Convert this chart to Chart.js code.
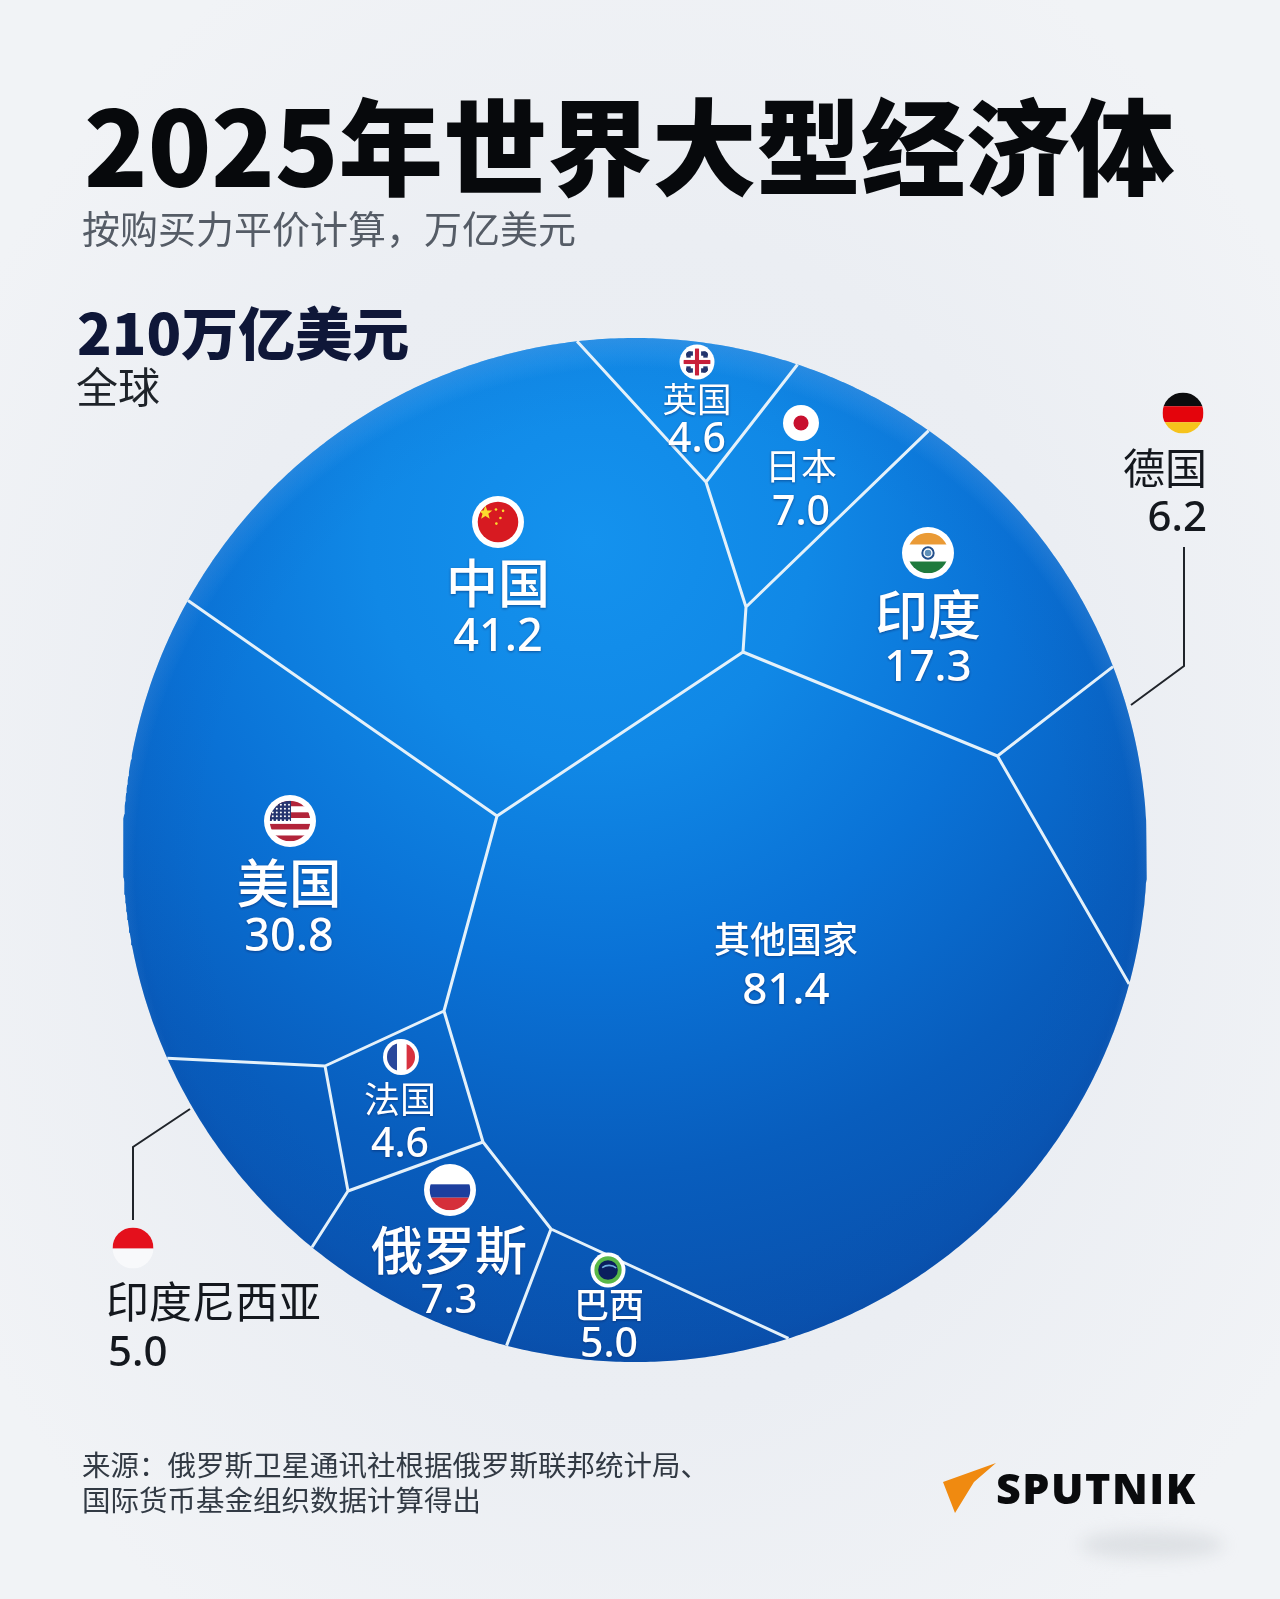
<!DOCTYPE html>
<html lang="zh">
<head>
<meta charset="utf-8">
<title>2025年世界大型经济体</title>
<script src="https://cdn.jsdelivr.net/npm/chart.js@4/dist/chart.umd.min.js"></script>
<style>
html,body{margin:0;padding:0;width:1280px;height:1599px;overflow:hidden;background:radial-gradient(ellipse 780px 980px at 640px 820px,#e8ecf1 0%,#ebeef3 60%,#f1f3f6 100%)}
canvas{display:block}
</style>
</head>
<body>
<canvas id="c" width="1280" height="1599"></canvas>
<script>
// ---------- data ----------
const categories = ['其他国家','中国','美国','印度','俄罗斯','日本','德国','印度尼西亚','巴西','英国','法国'];
const values = [81.4,41.2,30.8,17.3,7.3,7.0,6.2,5.0,5.0,4.6,4.6];
const titleText = '2025年世界大型经济体';
const subtitleText = '按购买力平价计算，万亿美元';
const totalText = '210万亿美元';
const totalSub = '全球';
const sourceLines = ['来源：俄罗斯卫星通讯社根据俄罗斯联邦统计局、','国际货币基金组织数据计算得出'];

// cell outlines, in the units of the x/y scales
const cellOther = [[743,652],[997.5,756],[1129,984],[788,1337],[551,1229],[483,1142],[444,1011],[497,816]];
const cellChina = [[189,601],[577,341],[706,482],[746,607],[743,652],[497,816]];
const cellUS = [[189,601],[497,816],[444,1011],[325,1066],[168,1058]];
const cellIndia = [[929,430],[1112,667],[997.5,756],[743,652],[746,607]];
const cellRussia = [[348,1191],[483,1142],[551,1229],[507,1344],[313,1246]];
const cellJapan = [[798,363],[929,430],[746,607],[706,482]];
const cellGermany = [[1112,667],[1129,984],[997.5,756]];
const cellIndonesia = [[168,1058],[325,1066],[348,1191],[313,1246]];
const cellBrazil = [[551,1229],[788,1337],[507,1344]];
const cellUK = [[577,341],[798,363],[706,482]];
const cellFrance = [[444,1011],[483,1142],[348,1191],[325,1066]];
const cells = [cellOther,cellChina,cellUS,cellIndia,cellRussia,cellJapan,cellGermany,cellIndonesia,cellBrazil,cellUK,cellFrance];
const sphere = {x:635,y:850,r:512};
const leaderGermany = [[1184,547],[1184,666],[1131,705]];
const leaderIndonesia = [[133,1220],[133,1147],[190,1109]];

// ---------- layout (styles/positions kept apart from the data) ----------
const W=1280,H=1599;
const CJK='"Noto Sans CJK SC"';
const labelLayout = {
 '其他国家':{x:786,ny:939,ns:36,vy:991,vs:44,c:'#fff',w:500},
 '中国':{x:498,ny:583,ns:52,vy:638,vs:45,c:'#fff',w:500,flag:[498,522,26,'cn']},
 '美国':{x:289,ny:883,ns:52.5,vy:938,vs:45,c:'#fff',w:500,flag:[290,821,26,'us']},
 '印度':{x:928,ny:615,ns:53,vy:668,vs:44,c:'#fff',w:500,flag:[928,553,26,'in']},
 '俄罗斯':{x:449,ny:1250,ns:52,vy:1302,vs:40,c:'#fff',w:500,flag:[450,1190,26,'ru']},
 '日本':{x:801,ny:466,ns:36,vy:513,vs:41,c:'#fff',w:400,flag:[801,423,18,'jp']},
 '德国':{x:1207,ny:468,ns:42,vy:519,vs:42,c:'#14181e',w:400,align:'right',flag:[1183,413,20.5,'de']},
 '印度尼西亚':{x:106,ny:1302,ns:43,vy:1354,vs:42,c:'#14181e',w:400,align:'left',flag:[133,1248,20.5,'id']},
 '巴西':{x:609,ny:1305,ns:35,vy:1345,vs:41,c:'#fff',w:500,flag:[608,1270,17.5,'br']},
 '英国':{x:697,ny:399,ns:34.5,vy:440,vs:41,c:'#fff',w:400,flag:[697,362,17.5,'uk']},
 '法国':{x:400,ny:1099,ns:36,vy:1145,vs:41,c:'#fff',w:400,flag:[401,1057,18,'fr']}
};

// ---------- helpers ----------
const onRim=p=>Math.abs(Math.hypot(p[0]-sphere.x,p[1]-sphere.y)-sphere.r)<8;
const snap=p=>{const a=Math.atan2(p[1]-sphere.y,p[0]-sphere.x);return {x:sphere.x+sphere.r*Math.cos(a),y:sphere.y+sphere.r*Math.sin(a),a};};
function outline(cell){
  const out=[];
  for(let i=0;i<cell.length;i++){
    const p=cell[i],q=cell[(i+1)%cell.length];
    if(onRim(p)&&onRim(q)){
      const A=snap(p),B=snap(q);
      let d=B.a-A.a; while(d>Math.PI)d-=2*Math.PI; while(d<-Math.PI)d+=2*Math.PI;
      const n=Math.ceil(Math.abs(d)*120);
      for(let k=0;k<n;k++){const t=A.a+d*k/n;out.push({x:sphere.x+sphere.r*Math.cos(t),y:sphere.y+sphere.r*Math.sin(t)});}
    } else {
      out.push(onRim(p)?snap(p):{x:p[0],y:p[1]});
    }
  }
  out.push({...out[0]});
  return out;
}
function innerEdges(){
  const pts=[];
  cells.forEach(cell=>{
    for(let i=0;i<cell.length;i++){
      const p=cell[i],q=cell[(i+1)%cell.length];
      if(onRim(p)&&onRim(q))continue;
      if(p[0]>q[0]||(p[0]===q[0]&&p[1]>q[1]))continue;
      const a=onRim(p)?snap(p):{x:p[0],y:p[1]};
      const b=onRim(q)?snap(q):{x:q[0],y:q[1]};
      pts.push(a,b,{x:null,y:null});
    }
  });
  return pts;
}
let bodyGrad=null,rimGrad=null,topGrad=null;
function bodyFill(ctx){
  if(!bodyGrad){
    const g=ctx.chart.ctx.createRadialGradient(590,540,0,590,540,880);
    g.addColorStop(0,'#1492ee');g.addColorStop(.25,'#1088e6');g.addColorStop(.48,'#0a72d6');
    g.addColorStop(.72,'#085dbd');g.addColorStop(1,'#0a4da8');
    bodyGrad=g;
  }
  return bodyGrad;
}
function rimFill(ctx){
  if(!rimGrad){
    const g=ctx.chart.ctx.createRadialGradient(sphere.x,sphere.y,430,sphere.x,sphere.y,sphere.r);
    g.addColorStop(0,'rgba(10,60,150,0)');g.addColorStop(.8,'rgba(10,60,150,.04)');g.addColorStop(1,'rgba(10,60,150,.12)');
    rimGrad=g;
  }
  return rimGrad;
}
function topLight(ctx){
  if(!topGrad){
    const g=ctx.chart.ctx.createRadialGradient(sphere.x,sphere.y+18,500,sphere.x,sphere.y+18,532);
    g.addColorStop(0,'rgba(130,195,255,0)');g.addColorStop(1,'rgba(130,195,255,.26)');
    topGrad=g;
  }
  return topGrad;
}

// flags
function drawFlag(c,x,y,r,kind){
  const ring=!(kind==='de'||kind==='id');
  const ir=ring?r*0.78:r;
  c.save();
  if(ring){c.beginPath();c.arc(x,y,r,0,7);c.fillStyle='#fff';c.fill();}
  c.beginPath();c.arc(x,y,ir,0,7);c.clip();
  const band=(col,y0,y1)=>{c.fillStyle=col;c.fillRect(x-r,y+y0*ir,2*r,(y1-y0)*ir);};
  if(kind==='cn'){
    c.fillStyle='#d71a21';c.fillRect(x-r,y-r,2*r,2*r);
    c.fillStyle='#fbdc2e';star(c,x-ir*.62,y-ir*.45,ir*.36);
    [[-.1,-.62],[.12,-.2],[-.08,.08],[.25,-.55]].forEach(s=>{c.beginPath();c.arc(x+s[0]*ir,y+s[1]*ir,1.3,0,7);c.fill();});
  } else if(kind==='us'){
    for(let i=0;i<7;i++)band(i%2?'#fff':'#b2243a',-1+i*2/7,-1+(i+1)*2/7);
    c.fillStyle='#26356f';c.fillRect(x-ir,y-ir,ir*1.05,ir);
    c.fillStyle='#fff';
    for(let i=0;i<5;i++)for(let j=0;j<5;j++){c.beginPath();c.arc(x-ir*.85+j*ir*.2,y-ir*.8+i*ir*.19,1,0,7);c.fill();}
  } else if(kind==='in'){
    band('#ea9a35',-1,-.42);band('#1f7a3d',.42,1);
    c.strokeStyle='#24508c';c.lineWidth=2;c.beginPath();c.arc(x,y,ir*.28,0,7);c.stroke();
    c.fillStyle='#5e8fb8';c.beginPath();c.arc(x,y,ir*.16,0,7);c.fill();
  } else if(kind==='ru'){
    band('#ffffff',-1,-.28);band('#1d3f9e',-.28,.38);band('#d5303a',.38,1);
  } else if(kind==='jp'){
    c.beginPath();c.arc(x,y,r*.42,0,7);c.fillStyle='#c8102e';c.fill();
  } else if(kind==='de'){
    band('#0c0c0e',-1,-.33);band('#e4040c',-.33,.45);band('#f6c31c',.45,1);
  } else if(kind==='id'){
    band('#e4101c',-1,.03);band('#f8f9fb',.03,1);
  } else if(kind==='fr'){
    c.fillStyle='#29479b';c.fillRect(x-ir,y-ir,ir*.72,2*ir);
    c.fillStyle='#fff';c.fillRect(x-ir*.28,y-ir,ir*.68,2*ir);
    c.fillStyle='#d8323f';c.fillRect(x+ir*.4,y-ir,ir*.7,2*ir);
  } else if(kind==='uk'){
    c.fillStyle='#fff';c.fillRect(x-r,y-r,2*r,2*r);
    c.fillStyle='#24356e';
    [[-1,-1],[1,-1],[-1,1],[1,1]].forEach(s=>{
      c.fillRect(x+s[0]*ir*.3-(s[0]<0?ir*.5:0),y+s[1]*ir*.62-(ir*.16),ir*.5,ir*.32);
      c.fillRect(x+s[0]*ir*.62-(ir*.16),y+s[1]*ir*.32-(s[1]<0?ir*.45:0),ir*.32,ir*.45);
    });
    c.fillStyle='#c8203a';c.fillRect(x-ir,y-ir*.15,2*ir,ir*.3);c.fillRect(x-ir*.15,y-ir,ir*.3,2*ir);
  } else if(kind==='br'){
    c.fillStyle='#58b848';c.fillRect(x-r,y-r,2*r,2*r);
    c.fillStyle='#0a1f5e';c.beginPath();c.arc(x,y,ir*.72,0,7);c.fill();
    c.strokeStyle='#6fb0e0';c.lineWidth=1.6;c.beginPath();c.arc(x+1,y+7,ir*.85,-2.2,-.9);c.stroke();
  }
  c.restore();
}
function star(c,x,y,r){
  c.beginPath();
  for(let i=0;i<10;i++){const a=-Math.PI/2+i*Math.PI/5,R=i%2?r*.42:r;c.lineTo(x+R*Math.cos(a),y+R*Math.sin(a));}
  c.closePath();c.fill();
}
function text(c,s,x,y,font,col,align,shadow){
  c.save();c.font=font;c.fillStyle=col;c.textAlign=align||'left';c.textBaseline='middle';
  if(shadow){c.shadowColor='rgba(4,30,90,.55)';c.shadowBlur=3;c.shadowOffsetY=1;}
  c.fillText(s,x,y);c.restore();
}

const artPlugin={
  id:'art',
  beforeDraw(chart){
    const c=chart.ctx;
    c.save();c.filter='blur(8px)';c.fillStyle='rgba(196,200,206,.42)';
    c.beginPath();c.ellipse(1152,1545,72,14,0,0,7);c.fill();c.restore();
  },
  afterDraw(chart){
    const c=chart.ctx;
    text(c,titleText,84,147,`900 104.5px ${CJK}`,'#07090c','left');
    text(c,subtitleText,82,229,`400 38px ${CJK}`,'#555c66','left');
    text(c,totalText,77,333,`900 57px ${CJK}`,'#0f1738','left');
    text(c,totalSub,76,387,`400 42px ${CJK}`,'#1e2329','left');
    categories.forEach((n,i)=>{
      const L=labelLayout[n],light=L.c==='#fff',al=L.align||'center';
      if(L.flag)drawFlag(c,L.flag[0],L.flag[1],L.flag[2],L.flag[3]);
      text(c,n,L.x,L.ny,`${L.w} ${L.ns}px ${CJK}`,L.c,al,light);
      text(c,values[i].toFixed(1),al==='left'?L.x+2:L.x,L.vy,`500 ${L.vs}px "Noto Sans"`,L.c,al,light);
    });
    text(c,sourceLines[0],82,1465,`400 28.5px ${CJK}`,'#323a44','left');
    text(c,sourceLines[1],82,1500,`400 28.5px ${CJK}`,'#323a44','left');
    // logo
    c.save();c.fillStyle='#f08a10';c.beginPath();c.moveTo(996,1463);c.lineTo(943,1482);c.lineTo(955,1513);c.lineTo(974,1482);c.closePath();c.fill();c.restore();
    c.save();c.font='800 43px "Open Sans"';c.fillStyle='#0a0b0d';c.textAlign='left';c.textBaseline='alphabetic';
    c.letterSpacing='1.5px';c.fillText('SPUTNIK',996,1504);c.restore();
  }
};

const toPts=a=>a.map(p=>({x:p[0],y:p[1]}));
const lineDs=(data,color,width,order)=>({type:'scatter',data,showLine:true,fill:false,spanGaps:false,borderColor:color,borderWidth:width,pointRadius:0,order,clip:false,tension:0});
const overlay=(fill,order)=>({type:'scatter',data:[{x:sphere.x,y:sphere.y}],pointRadius:sphere.r,pointBorderWidth:0,pointBackgroundColor:fill,showLine:false,order,clip:false});
const datasets=[
  lineDs(innerEdges(),'#e4f1fa',3,1),
  lineDs(toPts(leaderGermany),'#20242a',2,1),
  lineDs(toPts(leaderIndonesia),'#20242a',2,1),
  overlay(topLight,2),
  overlay(rimFill,3),
  ...cells.map((cell,i)=>({type:'scatter',label:categories[i],data:outline(cell),showLine:true,fill:'shape',borderWidth:0,borderColor:'rgba(0,0,0,0)',backgroundColor:bodyFill,pointRadius:0,order:4,clip:false,tension:0}))
];

new Chart(document.getElementById('c').getContext('2d'),{
  type:'scatter',
  data:{labels:categories,datasets},
  plugins:[artPlugin],
  options:{
    responsive:false,animation:false,devicePixelRatio:1,
    layout:{padding:0,autoPadding:false},
    scales:{
      x:{type:'linear',min:0,max:W,display:false},
      y:{type:'linear',min:0,max:H,reverse:true,display:false}
    },
    plugins:{legend:{display:false},tooltip:{enabled:false},filler:{propagate:false}},
    events:[]
  }
});
</script>
</body>
</html>
